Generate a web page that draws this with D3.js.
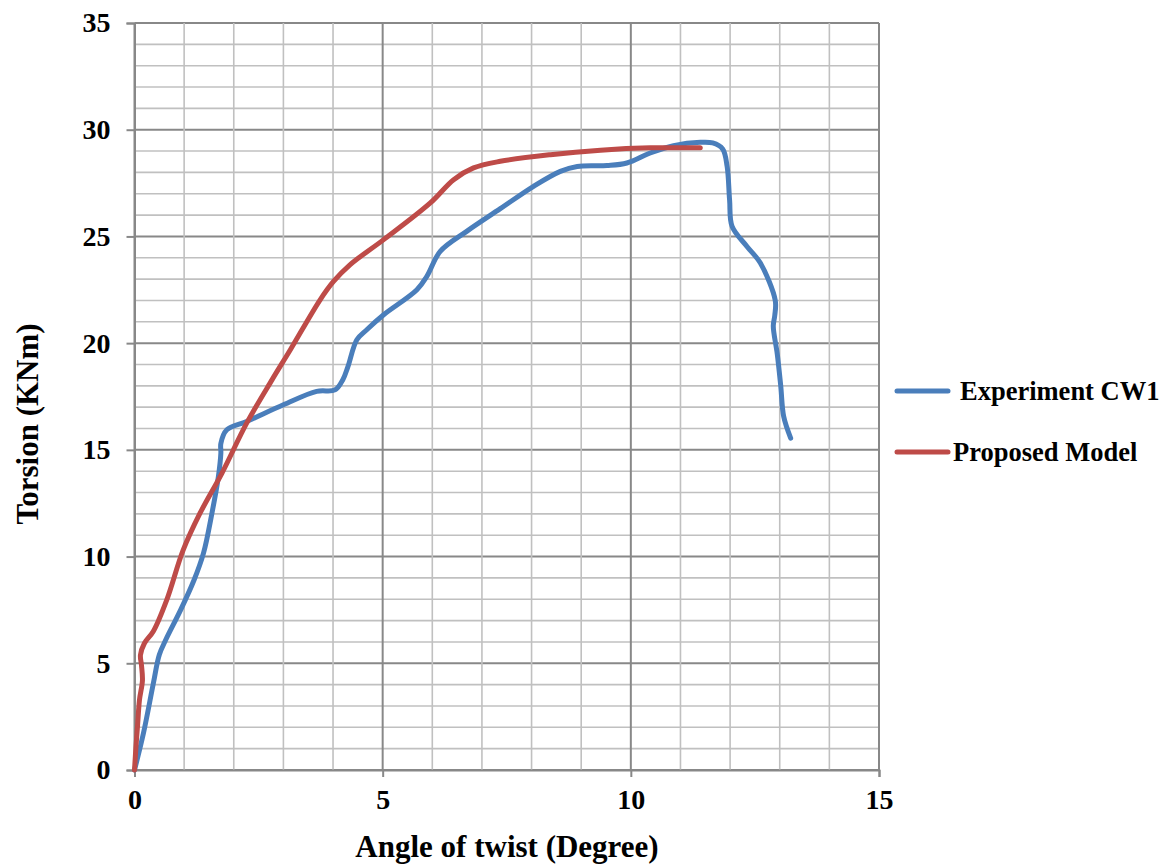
<!DOCTYPE html>
<html>
<head>
<meta charset="utf-8">
<script src="https://cdn.jsdelivr.net/npm/d3@7"></script>
<style>
  body { margin: 0; background: #fff; }
  text { font-family: "Liberation Serif", "Times New Roman", serif; font-weight: bold; fill: #000; }
</style>
</head>
<body>
<svg id="chart" width="1166" height="865"></svg>
<script>
// Experiment CW1 (angle of twist in degrees, torsion in kNm)
const expAngle = [0, 0.18, 0.38, 0.5, 0.63, 0.93, 1.2, 1.39, 1.56, 1.69, 1.74, 1.74, 1.86, 2.26, 3.0, 3.67, 4.04, 4.2, 4.3, 4.48, 4.68, 5.02, 5.69, 5.89, 6.16, 6.7, 7.37, 8.04, 8.58, 8.92, 9.52, 9.92, 10.39, 10.86, 11.4, 11.65, 11.85, 11.94, 11.99, 12.04, 12.34, 12.61, 12.91, 12.9, 12.87, 12.95, 13.02, 13.08, 13.22];
const expTorsion = [0, 1.72, 4.06, 5.4, 6.1, 7.5, 8.9, 10.16, 12.03, 13.75, 14.85, 15.3, 15.94, 16.33, 17.11, 17.74, 17.81, 18.3, 18.9, 20.16, 20.63, 21.33, 22.5, 23.13, 24.3, 25.25, 26.3, 27.35, 28.05, 28.28, 28.32, 28.44, 28.91, 29.25, 29.41, 29.38, 29.1, 28.28, 26.7, 25.47, 24.53, 23.75, 22.0, 21.3, 20.8, 19.5, 18.0, 16.56, 15.55];

// Proposed Model
const modelAngle = [0, 0.03, 0.06, 0.1, 0.16, 0.14, 0.12, 0.2, 0.38, 0.65, 0.98, 1.32, 1.76, 2.26, 2.77, 3.14, 3.74, 4.01, 4.34, 5.02, 5.96, 6.43, 6.83, 7.37, 8.38, 9.39, 10.39, 11.4];
const modelTorsion = [0, 1.1, 2.03, 3.28, 4.2, 4.92, 5.39, 5.94, 6.5, 7.97, 10.3, 12.03, 13.9, 16.25, 18.28, 19.69, 22.03, 22.89, 23.67, 24.85, 26.57, 27.66, 28.21, 28.52, 28.83, 29.04, 29.15, 29.15];

const xTicks = [0, 5, 10, 15];
const yTicks = [0, 5, 10, 15, 20, 25, 30, 35];

const series = [
    { name: "Experiment CW1", x: expAngle, y: expTorsion, color: "#4a7ebb" },
    { name: "Proposed Model", x: modelAngle, y: modelTorsion, color: "#be4b48" }
];

const svg = d3.select("#chart");
const x = d3.scaleLinear().domain([0, 15]).range([134.5, 879]);
const y = d3.scaleLinear().domain([0, 35]).range([770, 23]);

// grid: every unit, darker on the major ticks
const grid = svg.append("g");
grid.selectAll(".hgrid")
    .data(d3.range(0, 36))
    .enter().append("line")
    .attr("x1", x(0)).attr("x2", x(15))
    .attr("y1", d => y(d)).attr("y2", d => y(d))
    .attr("stroke", d => d % 5 === 0 ? "#888" : "#c0c0c0")
    .attr("stroke-width", d => d % 5 === 0 ? 2 : 1.6);
grid.selectAll(".vgrid")
    .data(d3.range(0, 16))
    .enter().append("line")
    .attr("y1", y(0)).attr("y2", y(35))
    .attr("x1", d => x(d)).attr("x2", d => x(d))
    .attr("stroke", d => d % 5 === 0 ? "#888" : "#c0c0c0")
    .attr("stroke-width", d => d % 5 === 0 ? 2 : 1.6);

// axes
const yAxis = svg.append("g")
    .attr("transform", `translate(${x(0)},0)`)
    .call(d3.axisLeft(y).tickValues(yTicks).tickSize(8).tickPadding(16));
const xAxis = svg.append("g")
    .attr("transform", `translate(0,${y(0)})`)
    .call(d3.axisBottom(x).tickValues(xTicks).tickSize(7).tickPadding(12));
[yAxis, xAxis].forEach(a => {
    a.select(".domain").attr("stroke", "#888").attr("stroke-width", 2);
    a.selectAll(".tick line").attr("stroke", "#888").attr("stroke-width", 2);
    a.selectAll("text")
        .style("font-family", "'Liberation Serif', 'Times New Roman', serif")
        .style("font-weight", "bold")
        .style("font-size", "28px")
        .attr("fill", "#000");
});

// lines
const line = d3.line()
    .x(d => x(d[0]))
    .y(d => y(d[1]))
    .curve(d3.curveCatmullRom.alpha(0.5));

series.forEach(s => {
    const pts = s.x.map((v, i) => [v, s.y[i]]);
    svg.append("path")
        .datum(pts)
        .attr("d", line)
        .attr("fill", "none")
        .attr("stroke", s.color)
        .attr("stroke-width", 5)
        .attr("stroke-linecap", "round")
        .attr("stroke-linejoin", "round");
});

// axis titles
svg.append("text")
    .attr("x", 507).attr("y", 857)
    .attr("text-anchor", "middle")
    .style("font-size", "31px")
    .text("Angle of twist (Degree)");
svg.append("text")
    .attr("transform", "translate(38,424) rotate(-90)")
    .attr("text-anchor", "middle")
    .style("font-size", "31px")
    .text("Torsion (KNm)");

// legend
const legend = [
    { s: series[0], y: 391, tx: 960 },
    { s: series[1], y: 452, tx: 953 }
];
legend.forEach(l => {
    svg.append("line")
        .attr("x1", 897).attr("x2", 948)
        .attr("y1", l.y).attr("y2", l.y)
        .attr("stroke", l.s.color)
        .attr("stroke-width", 5)
        .attr("stroke-linecap", "round");
    svg.append("text")
        .attr("x", l.tx).attr("y", l.y + 9)
        .style("font-size", "26.5px")
        .text(l.s.name);
});
</script>
</body>
</html>
